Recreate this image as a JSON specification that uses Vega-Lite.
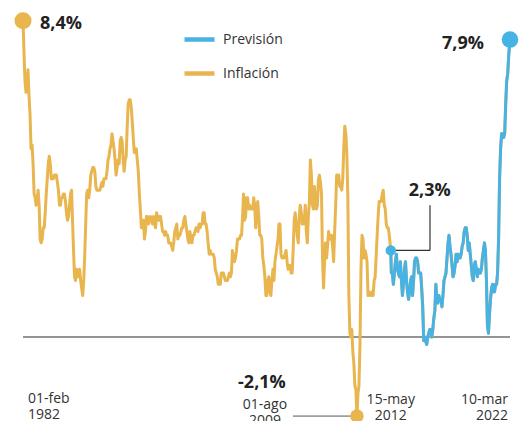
{
"$schema": "https://vega.github.io/schema/vega-lite/v6.json",
"width": 519, "height": 421, "padding": 0,
"autosize": {"type": "none"},
"background": "white",
"config": {"view": {"stroke": null}, "font": "Open Sans"},
"datasets": {"ipc": [
{"d":"1982-02-01","v":8.4},{"d":"1982-03-01","v":7.6},{"d":"1982-04-01","v":6.8},{"d":"1982-05-01","v":6.5},{"d":"1982-06-01","v":6.7},{"d":"1982-07-01","v":7.1},{"d":"1982-08-01","v":6.4},{"d":"1982-09-01","v":5.9},{"d":"1982-10-01","v":5.0},{"d":"1982-11-01","v":5.1},{"d":"1982-12-01","v":4.6},{"d":"1983-01-01","v":3.8},
{"d":"1983-02-01","v":3.7},{"d":"1983-03-01","v":3.5},{"d":"1983-04-01","v":3.6},{"d":"1983-05-01","v":3.9},{"d":"1983-06-01","v":3.5},{"d":"1983-07-01","v":2.6},{"d":"1983-08-01","v":2.5},{"d":"1983-09-01","v":2.6},{"d":"1983-10-01","v":2.9},{"d":"1983-11-01","v":2.9},{"d":"1983-12-01","v":3.3},{"d":"1984-01-01","v":3.8},
{"d":"1984-02-01","v":4.2},{"d":"1984-03-01","v":4.6},{"d":"1984-04-01","v":4.8},{"d":"1984-05-01","v":4.6},{"d":"1984-06-01","v":4.2},{"d":"1984-07-01","v":4.2},{"d":"1984-08-01","v":4.2},{"d":"1984-09-01","v":4.3},{"d":"1984-10-01","v":4.3},{"d":"1984-11-01","v":4.3},{"d":"1984-12-01","v":4.1},{"d":"1985-01-01","v":3.9},
{"d":"1985-02-01","v":3.5},{"d":"1985-03-01","v":3.5},{"d":"1985-04-01","v":3.7},{"d":"1985-05-01","v":3.7},{"d":"1985-06-01","v":3.8},{"d":"1985-07-01","v":3.8},{"d":"1985-08-01","v":3.6},{"d":"1985-09-01","v":3.3},{"d":"1985-10-01","v":3.1},{"d":"1985-11-01","v":3.2},{"d":"1985-12-01","v":3.5},{"d":"1986-01-01","v":3.8},
{"d":"1986-02-01","v":3.9},{"d":"1986-03-01","v":3.1},{"d":"1986-04-01","v":2.3},{"d":"1986-05-01","v":1.6},{"d":"1986-06-01","v":1.5},{"d":"1986-07-01","v":1.8},{"d":"1986-08-01","v":1.6},{"d":"1986-09-01","v":1.6},{"d":"1986-10-01","v":1.8},{"d":"1986-11-01","v":1.5},{"d":"1986-12-01","v":1.3},{"d":"1987-01-01","v":1.1},
{"d":"1987-02-01","v":1.5},{"d":"1987-03-01","v":2.1},{"d":"1987-04-01","v":3.0},{"d":"1987-05-01","v":3.8},{"d":"1987-06-01","v":3.9},{"d":"1987-07-01","v":3.7},{"d":"1987-08-01","v":3.9},{"d":"1987-09-01","v":4.3},{"d":"1987-10-01","v":4.4},{"d":"1987-11-01","v":4.5},{"d":"1987-12-01","v":4.5},{"d":"1988-01-01","v":4.4},
{"d":"1988-02-01","v":4.0},{"d":"1988-03-01","v":3.9},{"d":"1988-04-01","v":3.9},{"d":"1988-05-01","v":3.9},{"d":"1988-06-01","v":3.9},{"d":"1988-07-01","v":4.0},{"d":"1988-08-01","v":4.1},{"d":"1988-09-01","v":4.0},{"d":"1988-10-01","v":4.2},{"d":"1988-11-01","v":4.2},{"d":"1988-12-01","v":4.2},{"d":"1989-01-01","v":4.4},
{"d":"1989-02-01","v":4.7},{"d":"1989-03-01","v":4.8},{"d":"1989-04-01","v":5.0},{"d":"1989-05-01","v":5.1},{"d":"1989-06-01","v":5.4},{"d":"1989-07-01","v":5.2},{"d":"1989-08-01","v":5.0},{"d":"1989-09-01","v":4.7},{"d":"1989-10-01","v":4.3},{"d":"1989-11-01","v":4.5},{"d":"1989-12-01","v":4.7},{"d":"1990-01-01","v":4.6},
{"d":"1990-02-01","v":5.2},{"d":"1990-03-01","v":5.3},{"d":"1990-04-01","v":5.2},{"d":"1990-05-01","v":4.7},{"d":"1990-06-01","v":4.4},{"d":"1990-07-01","v":4.7},{"d":"1990-08-01","v":4.8},{"d":"1990-09-01","v":5.6},{"d":"1990-10-01","v":6.2},{"d":"1990-11-01","v":6.3},{"d":"1990-12-01","v":6.3},{"d":"1991-01-01","v":6.1},
{"d":"1991-02-01","v":5.7},{"d":"1991-03-01","v":5.3},{"d":"1991-04-01","v":4.9},{"d":"1991-05-01","v":4.9},{"d":"1991-06-01","v":5.0},{"d":"1991-07-01","v":4.7},{"d":"1991-08-01","v":4.4},{"d":"1991-09-01","v":3.8},{"d":"1991-10-01","v":3.4},{"d":"1991-11-01","v":2.9},{"d":"1991-12-01","v":3.0},{"d":"1992-01-01","v":3.1},
{"d":"1992-02-01","v":2.6},{"d":"1992-03-01","v":2.8},{"d":"1992-04-01","v":3.2},{"d":"1992-05-01","v":3.2},{"d":"1992-06-01","v":3.0},{"d":"1992-07-01","v":3.1},{"d":"1992-08-01","v":3.2},{"d":"1992-09-01","v":3.1},{"d":"1992-10-01","v":3.0},{"d":"1992-11-01","v":3.2},{"d":"1992-12-01","v":3.0},{"d":"1993-01-01","v":2.9},
{"d":"1993-02-01","v":3.3},{"d":"1993-03-01","v":3.2},{"d":"1993-04-01","v":3.1},{"d":"1993-05-01","v":3.2},{"d":"1993-06-01","v":3.2},{"d":"1993-07-01","v":3.0},{"d":"1993-08-01","v":2.8},{"d":"1993-09-01","v":2.8},{"d":"1993-10-01","v":2.7},{"d":"1993-11-01","v":2.8},{"d":"1993-12-01","v":2.7},{"d":"1994-01-01","v":2.7},
{"d":"1994-02-01","v":2.5},{"d":"1994-03-01","v":2.5},{"d":"1994-04-01","v":2.5},{"d":"1994-05-01","v":2.4},{"d":"1994-06-01","v":2.3},{"d":"1994-07-01","v":2.5},{"d":"1994-08-01","v":2.8},{"d":"1994-09-01","v":2.9},{"d":"1994-10-01","v":3.0},{"d":"1994-11-01","v":2.6},{"d":"1994-12-01","v":2.7},{"d":"1995-01-01","v":2.7},
{"d":"1995-02-01","v":2.8},{"d":"1995-03-01","v":2.9},{"d":"1995-04-01","v":2.9},{"d":"1995-05-01","v":3.1},{"d":"1995-06-01","v":3.2},{"d":"1995-07-01","v":3.0},{"d":"1995-08-01","v":2.8},{"d":"1995-09-01","v":2.6},{"d":"1995-10-01","v":2.5},{"d":"1995-11-01","v":2.8},{"d":"1995-12-01","v":2.6},{"d":"1996-01-01","v":2.5},
{"d":"1996-02-01","v":2.7},{"d":"1996-03-01","v":2.7},{"d":"1996-04-01","v":2.8},{"d":"1996-05-01","v":2.9},{"d":"1996-06-01","v":2.9},{"d":"1996-07-01","v":2.8},{"d":"1996-08-01","v":3.0},{"d":"1996-09-01","v":2.9},{"d":"1996-10-01","v":3.0},{"d":"1996-11-01","v":3.0},{"d":"1996-12-01","v":3.3},{"d":"1997-01-01","v":3.3},
{"d":"1997-02-01","v":3.0},{"d":"1997-03-01","v":3.0},{"d":"1997-04-01","v":2.8},{"d":"1997-05-01","v":2.5},{"d":"1997-06-01","v":2.2},{"d":"1997-07-01","v":2.3},{"d":"1997-08-01","v":2.2},{"d":"1997-09-01","v":2.2},{"d":"1997-10-01","v":2.2},{"d":"1997-11-01","v":2.1},{"d":"1997-12-01","v":1.8},{"d":"1998-01-01","v":1.7},
{"d":"1998-02-01","v":1.6},{"d":"1998-03-01","v":1.4},{"d":"1998-04-01","v":1.4},{"d":"1998-05-01","v":1.4},{"d":"1998-06-01","v":1.7},{"d":"1998-07-01","v":1.7},{"d":"1998-08-01","v":1.7},{"d":"1998-09-01","v":1.6},{"d":"1998-10-01","v":1.5},{"d":"1998-11-01","v":1.5},{"d":"1998-12-01","v":1.5},{"d":"1999-01-01","v":1.6},
{"d":"1999-02-01","v":1.7},{"d":"1999-03-01","v":1.6},{"d":"1999-04-01","v":1.7},{"d":"1999-05-01","v":2.3},{"d":"1999-06-01","v":2.1},{"d":"1999-07-01","v":2.0},{"d":"1999-08-01","v":2.1},{"d":"1999-09-01","v":2.3},{"d":"1999-10-01","v":2.6},{"d":"1999-11-01","v":2.6},{"d":"1999-12-01","v":2.6},{"d":"2000-01-01","v":2.7},
{"d":"2000-02-01","v":2.7},{"d":"2000-03-01","v":3.2},{"d":"2000-04-01","v":3.8},{"d":"2000-05-01","v":3.1},{"d":"2000-06-01","v":3.2},{"d":"2000-07-01","v":3.7},{"d":"2000-08-01","v":3.7},{"d":"2000-09-01","v":3.4},{"d":"2000-10-01","v":3.5},{"d":"2000-11-01","v":3.4},{"d":"2000-12-01","v":3.4},{"d":"2001-01-01","v":3.4},
{"d":"2001-02-01","v":3.7},{"d":"2001-03-01","v":3.5},{"d":"2001-04-01","v":2.9},{"d":"2001-05-01","v":3.3},{"d":"2001-06-01","v":3.6},{"d":"2001-07-01","v":3.2},{"d":"2001-08-01","v":2.7},{"d":"2001-09-01","v":2.7},{"d":"2001-10-01","v":2.6},{"d":"2001-11-01","v":2.1},{"d":"2001-12-01","v":1.9},{"d":"2002-01-01","v":1.6},
{"d":"2002-02-01","v":1.1},{"d":"2002-03-01","v":1.1},{"d":"2002-04-01","v":1.5},{"d":"2002-05-01","v":1.6},{"d":"2002-06-01","v":1.2},{"d":"2002-07-01","v":1.1},{"d":"2002-08-01","v":1.5},{"d":"2002-09-01","v":1.8},{"d":"2002-10-01","v":1.5},{"d":"2002-11-01","v":2.0},{"d":"2002-12-01","v":2.2},{"d":"2003-01-01","v":2.4},
{"d":"2003-02-01","v":2.6},{"d":"2003-03-01","v":3.0},{"d":"2003-04-01","v":3.0},{"d":"2003-05-01","v":2.2},{"d":"2003-06-01","v":2.1},{"d":"2003-07-01","v":2.1},{"d":"2003-08-01","v":2.1},{"d":"2003-09-01","v":2.2},{"d":"2003-10-01","v":2.3},{"d":"2003-11-01","v":2.0},{"d":"2003-12-01","v":1.8},{"d":"2004-01-01","v":1.9},
{"d":"2004-02-01","v":1.9},{"d":"2004-03-01","v":1.7},{"d":"2004-04-01","v":1.7},{"d":"2004-05-01","v":2.3},{"d":"2004-06-01","v":3.1},{"d":"2004-07-01","v":3.3},{"d":"2004-08-01","v":3.0},{"d":"2004-09-01","v":2.7},{"d":"2004-10-01","v":2.5},{"d":"2004-11-01","v":3.2},{"d":"2004-12-01","v":3.5},{"d":"2005-01-01","v":3.3},
{"d":"2005-02-01","v":3.0},{"d":"2005-03-01","v":3.0},{"d":"2005-04-01","v":3.1},{"d":"2005-05-01","v":3.5},{"d":"2005-06-01","v":2.8},{"d":"2005-07-01","v":2.5},{"d":"2005-08-01","v":3.2},{"d":"2005-09-01","v":3.6},{"d":"2005-10-01","v":4.7},{"d":"2005-11-01","v":4.3},{"d":"2005-12-01","v":3.5},{"d":"2006-01-01","v":3.4},
{"d":"2006-02-01","v":4.0},{"d":"2006-03-01","v":3.6},{"d":"2006-04-01","v":3.4},{"d":"2006-05-01","v":3.5},{"d":"2006-06-01","v":4.2},{"d":"2006-07-01","v":4.3},{"d":"2006-08-01","v":4.1},{"d":"2006-09-01","v":3.8},{"d":"2006-10-01","v":2.1},{"d":"2006-11-01","v":1.3},{"d":"2006-12-01","v":2.0},{"d":"2007-01-01","v":2.5},
{"d":"2007-02-01","v":2.1},{"d":"2007-03-01","v":2.4},{"d":"2007-04-01","v":2.8},{"d":"2007-05-01","v":2.6},{"d":"2007-06-01","v":2.7},{"d":"2007-07-01","v":2.7},{"d":"2007-08-01","v":2.4},{"d":"2007-09-01","v":2.0},{"d":"2007-10-01","v":2.8},{"d":"2007-11-01","v":3.5},{"d":"2007-12-01","v":4.3},{"d":"2008-01-01","v":4.1},
{"d":"2008-02-01","v":4.3},{"d":"2008-03-01","v":4.0},{"d":"2008-04-01","v":4.0},{"d":"2008-05-01","v":3.9},{"d":"2008-06-01","v":4.2},{"d":"2008-07-01","v":5.0},{"d":"2008-08-01","v":5.6},{"d":"2008-09-01","v":5.4},{"d":"2008-10-01","v":4.9},{"d":"2008-11-01","v":3.7},{"d":"2008-12-01","v":1.1},{"d":"2009-01-01","v":0.1},
{"d":"2009-02-01","v":0.0},{"d":"2009-03-01","v":0.2},{"d":"2009-04-01","v":-0.4},{"d":"2009-05-01","v":-0.7},{"d":"2009-06-01","v":-1.3},{"d":"2009-07-01","v":-1.4},{"d":"2009-08-01","v":-2.1},{"d":"2009-09-01","v":-1.5},{"d":"2009-10-01","v":-1.3},{"d":"2009-11-01","v":-0.2},{"d":"2009-12-01","v":1.8},{"d":"2010-01-01","v":2.7},
{"d":"2010-02-01","v":2.6},{"d":"2010-03-01","v":2.1},{"d":"2010-04-01","v":2.3},{"d":"2010-05-01","v":2.2},{"d":"2010-06-01","v":2.0},{"d":"2010-07-01","v":1.1},{"d":"2010-08-01","v":1.2},{"d":"2010-09-01","v":1.1},{"d":"2010-10-01","v":1.1},{"d":"2010-11-01","v":1.2},{"d":"2010-12-01","v":1.1},{"d":"2011-01-01","v":1.5},
{"d":"2011-02-01","v":1.6},{"d":"2011-03-01","v":2.1},{"d":"2011-04-01","v":2.7},{"d":"2011-05-01","v":3.2},{"d":"2011-06-01","v":3.6},{"d":"2011-07-01","v":3.6},{"d":"2011-08-01","v":3.6},{"d":"2011-09-01","v":3.8},{"d":"2011-10-01","v":3.9},{"d":"2011-11-01","v":3.5},{"d":"2011-12-01","v":3.4},{"d":"2012-01-01","v":3.0},
{"d":"2012-02-01","v":2.9},{"d":"2012-03-01","v":2.9},{"d":"2012-04-01","v":2.7},{"d":"2012-05-15","v":2.3},{"d":"2012-06-01","v":1.7},{"d":"2012-07-01","v":1.7},{"d":"2012-08-01","v":1.4},{"d":"2012-09-01","v":1.7},{"d":"2012-10-01","v":2.0},{"d":"2012-11-01","v":2.2},{"d":"2012-12-01","v":1.8},{"d":"2013-01-01","v":1.7},
{"d":"2013-02-01","v":1.6},{"d":"2013-03-01","v":2.0},{"d":"2013-04-01","v":1.5},{"d":"2013-05-01","v":1.1},{"d":"2013-06-01","v":1.4},{"d":"2013-07-01","v":1.8},{"d":"2013-08-01","v":2.0},{"d":"2013-09-01","v":1.5},{"d":"2013-10-01","v":1.2},{"d":"2013-11-01","v":1.0},{"d":"2013-12-01","v":1.2},{"d":"2014-01-01","v":1.5},
{"d":"2014-02-01","v":1.6},{"d":"2014-03-01","v":1.1},{"d":"2014-04-01","v":1.5},{"d":"2014-05-01","v":2.0},{"d":"2014-06-01","v":2.1},{"d":"2014-07-01","v":2.1},{"d":"2014-08-01","v":2.0},{"d":"2014-09-01","v":1.7},{"d":"2014-10-01","v":1.7},{"d":"2014-11-01","v":1.7},{"d":"2014-12-01","v":1.3},{"d":"2015-01-01","v":0.8},
{"d":"2015-02-01","v":-0.1},{"d":"2015-03-01","v":0.0},{"d":"2015-04-01","v":-0.1},{"d":"2015-05-01","v":-0.2},{"d":"2015-06-01","v":0.0},{"d":"2015-07-01","v":0.1},{"d":"2015-08-01","v":0.2},{"d":"2015-09-01","v":0.2},{"d":"2015-10-01","v":0.0},{"d":"2015-11-01","v":0.2},{"d":"2015-12-01","v":0.5},{"d":"2016-01-01","v":0.7},
{"d":"2016-02-01","v":1.4},{"d":"2016-03-01","v":1.0},{"d":"2016-04-01","v":0.9},{"d":"2016-05-01","v":1.1},{"d":"2016-06-01","v":1.0},{"d":"2016-07-01","v":1.0},{"d":"2016-08-01","v":0.8},{"d":"2016-09-01","v":1.1},{"d":"2016-10-01","v":1.5},{"d":"2016-11-01","v":1.6},{"d":"2016-12-01","v":1.7},{"d":"2017-01-01","v":2.1},
{"d":"2017-02-01","v":2.5},{"d":"2017-03-01","v":2.7},{"d":"2017-04-01","v":2.4},{"d":"2017-05-01","v":2.2},{"d":"2017-06-01","v":1.9},{"d":"2017-07-01","v":1.6},{"d":"2017-08-01","v":1.7},{"d":"2017-09-01","v":1.9},{"d":"2017-10-01","v":2.2},{"d":"2017-11-01","v":2.0},{"d":"2017-12-01","v":2.2},{"d":"2018-01-01","v":2.1},
{"d":"2018-02-01","v":2.1},{"d":"2018-03-01","v":2.2},{"d":"2018-04-01","v":2.4},{"d":"2018-05-01","v":2.5},{"d":"2018-06-01","v":2.8},{"d":"2018-07-01","v":2.9},{"d":"2018-08-01","v":2.9},{"d":"2018-09-01","v":2.7},{"d":"2018-10-01","v":2.3},{"d":"2018-11-01","v":2.5},{"d":"2018-12-01","v":2.2},{"d":"2019-01-01","v":1.9},
{"d":"2019-02-01","v":1.6},{"d":"2019-03-01","v":1.5},{"d":"2019-04-01","v":1.9},{"d":"2019-05-01","v":2.0},{"d":"2019-06-01","v":1.8},{"d":"2019-07-01","v":1.6},{"d":"2019-08-01","v":1.8},{"d":"2019-09-01","v":1.7},{"d":"2019-10-01","v":1.7},{"d":"2019-11-01","v":1.8},{"d":"2019-12-01","v":2.1},{"d":"2020-01-01","v":2.3},
{"d":"2020-02-01","v":2.5},{"d":"2020-03-01","v":2.3},{"d":"2020-04-01","v":1.5},{"d":"2020-05-01","v":0.3},{"d":"2020-06-01","v":0.1},{"d":"2020-07-01","v":0.6},{"d":"2020-08-01","v":1.0},{"d":"2020-09-01","v":1.3},{"d":"2020-10-01","v":1.4},{"d":"2020-11-01","v":1.2},{"d":"2020-12-01","v":1.2},{"d":"2021-01-01","v":1.4},
{"d":"2021-02-01","v":1.4},{"d":"2021-03-01","v":1.7},{"d":"2021-04-01","v":2.6},{"d":"2021-05-01","v":4.2},{"d":"2021-06-01","v":5.0},{"d":"2021-07-01","v":5.4},{"d":"2021-08-01","v":5.4},{"d":"2021-09-01","v":5.3},{"d":"2021-10-01","v":5.4},{"d":"2021-11-01","v":6.2},{"d":"2021-12-01","v":6.8},{"d":"2022-01-01","v":7.0},
{"d":"2022-02-01","v":7.5},{"d":"2022-03-10","v":7.9}
]},
"layer": [
{
 "data": {"values": [{"linea": "cero"}]},
 "mark": {"type": "rule", "color": "#707070", "strokeWidth": 1.4},
 "encoding": {
  "x": {"datum": {"year": 1982, "month": 2, "date": 1, "utc": true}, "type": "temporal", "scale": {"domain": [{"year": 1980, "month": 3, "date": 11, "utc": true}, {"year": 2022, "month": 12, "date": 6, "utc": true}], "nice": false}, "axis": null},
  "x2": {"datum": {"year": 2022, "month": 3, "date": 10, "utc": true}},
  "y": {"datum": 0, "type": "quantitative", "scale": {"domain": [-2.231, 8.951], "nice": false, "zero": false}, "axis": null}
 }
},
{
 "data": {"name": "ipc"},
 "mark": {"type": "line", "strokeWidth": 3, "strokeJoin": "round", "strokeCap": "round"},
 "encoding": {
  "x": {"field": "d", "type": "temporal", "scale": {"domain": [{"year": 1980, "month": 3, "date": 11, "utc": true}, {"year": 2022, "month": 12, "date": 6, "utc": true}], "nice": false}, "axis": null},
  "y": {"field": "v", "type": "quantitative", "scale": {"domain": [-2.231, 8.951], "nice": false, "zero": false}, "axis": null},
  "color": {"datum": "Inflación", "type": "nominal", "scale": {"domain": ["Previsión", "Inflación"], "range": ["#47B2E4", "#E8B54F"]},
   "legend": {"title": null, "orient": "none", "legendX": 182, "legendY": 22, "symbolType": "stroke", "symbolSize": 900, "symbolStrokeWidth": 4.5, "labelFont": "Open Sans", "labelFontSize": 14, "labelColor": "#333333", "labelOffset": 6, "rowPadding": 7, "padding": 0}}
 }
},
{
 "data": {"name": "ipc"},
 "transform": [{"filter": {"field": "d", "gte": {"year": 2012, "month": 5, "date": 1, "utc": true}}}],
 "mark": {"type": "line", "strokeWidth": 3, "strokeJoin": "round", "strokeCap": "round"},
 "encoding": {
  "x": {"field": "d", "type": "temporal", "scale": {"domain": [{"year": 1980, "month": 3, "date": 11, "utc": true}, {"year": 2022, "month": 12, "date": 6, "utc": true}], "nice": false}, "axis": null},
  "y": {"field": "v", "type": "quantitative", "scale": {"domain": [-2.231, 8.951], "nice": false, "zero": false}, "axis": null},
  "color": {"datum": "Previsión", "type": "nominal", "scale": {"domain": ["Previsión", "Inflación"], "range": ["#47B2E4", "#E8B54F"]},
   "legend": {"title": null, "orient": "none", "legendX": 182, "legendY": 22, "symbolType": "stroke", "symbolSize": 900, "symbolStrokeWidth": 4.5, "labelFont": "Open Sans", "labelFontSize": 14, "labelColor": "#333333", "labelOffset": 6, "rowPadding": 7, "padding": 0}}
 }
},
{
 "data": {"values": [{"d": "1982-02-01", "v": 8.4, "t": "8,4%", "f": "01-feb\n1982"}]},
 "encoding": {
  "x": {"field": "d", "type": "temporal", "scale": {"domain": [{"year": 1980, "month": 3, "date": 11, "utc": true}, {"year": 2022, "month": 12, "date": 6, "utc": true}], "nice": false}, "axis": null},
  "y": {"field": "v", "type": "quantitative", "scale": {"domain": [-2.231, 8.951], "nice": false, "zero": false}, "axis": null}
 },
 "layer": [
  {"mark": {"type": "point", "filled": true, "opacity": 1, "color": "#E8B54F", "size": 290}},
  {"mark": {"type": "text", "align": "left", "baseline": "middle", "dx": 17, "dy": 3, "font": "Open Sans", "fontWeight": "bold", "fontSize": 18, "color": "#222222"}, "encoding": {"text": {"field": "t"}}},
  {"mark": {"type": "text", "align": "left", "baseline": "alphabetic", "dx": 5, "dy": 66, "lineBreak": "\n", "lineHeight": 16, "font": "Open Sans", "fontSize": 14, "color": "#333333"},
   "encoding": {"text": {"field": "f"}, "y": {"datum": 0, "type": "quantitative", "scale": {"domain": [-2.231, 8.951], "nice": false, "zero": false}, "axis": null}}}
 ]
},
{
 "data": {"values": [{"d": "2009-08-01", "v": -2.1, "t": "-2,1%", "f": "01-ago\n2009"}]},
 "encoding": {
  "x": {"field": "d", "type": "temporal", "scale": {"domain": [{"year": 1980, "month": 3, "date": 11, "utc": true}, {"year": 2022, "month": 12, "date": 6, "utc": true}], "nice": false}, "axis": null},
  "y": {"field": "v", "type": "quantitative", "scale": {"domain": [-2.231, 8.951], "nice": false, "zero": false}, "axis": null}
 },
 "layer": [
  {"mark": {"type": "rule", "color": "#555555", "strokeWidth": 1},
   "encoding": {"x": {"datum": {"year": 2004, "month": 4, "date": 26, "utc": true}, "type": "temporal", "scale": {"domain": [{"year": 1980, "month": 3, "date": 11, "utc": true}, {"year": 2022, "month": 12, "date": 6, "utc": true}], "nice": false}, "axis": null}, "x2": {"field": "d"}}},
  {"mark": {"type": "point", "filled": true, "opacity": 1, "color": "#E8B54F", "size": 180}},
  {"mark": {"type": "text", "align": "center", "baseline": "middle", "dx": -95, "dy": -33, "font": "Open Sans", "fontWeight": "bold", "fontSize": 18, "color": "#222222"}, "encoding": {"text": {"field": "t"}}},
  {"mark": {"type": "text", "align": "center", "baseline": "alphabetic", "dx": -92, "dy": -7, "lineBreak": "\n", "lineHeight": 16, "font": "Open Sans", "fontSize": 14, "color": "#333333"}, "encoding": {"text": {"field": "f"}}}
 ]
},
{
 "data": {"values": [{"d": "2012-05-15", "v": 2.3, "t": "2,3%", "f": "15-may\n2012"}]},
 "encoding": {
  "x": {"field": "d", "type": "temporal", "scale": {"domain": [{"year": 1980, "month": 3, "date": 11, "utc": true}, {"year": 2022, "month": 12, "date": 6, "utc": true}], "nice": false}, "axis": null},
  "y": {"field": "v", "type": "quantitative", "scale": {"domain": [-2.231, 8.951], "nice": false, "zero": false}, "axis": null}
 },
 "layer": [
  {"mark": {"type": "rule", "color": "#333333", "strokeWidth": 1.2},
   "encoding": {"x2": {"datum": {"year": 2015, "month": 8, "date": 8, "utc": true}}}},
  {"mark": {"type": "rule", "color": "#333333", "strokeWidth": 1.2},
   "encoding": {"x": {"datum": {"year": 2015, "month": 8, "date": 8, "utc": true}, "type": "temporal", "scale": {"domain": [{"year": 1980, "month": 3, "date": 11, "utc": true}, {"year": 2022, "month": 12, "date": 6, "utc": true}], "nice": false}, "axis": null}, "y2": {"datum": 3.5}}},
  {"mark": {"type": "point", "filled": true, "opacity": 1, "color": "#47B2E4", "size": 110}},
  {"mark": {"type": "text", "align": "center", "baseline": "middle", "dx": 39, "dy": -59, "font": "Open Sans", "fontWeight": "bold", "fontSize": 18, "color": "#222222"}, "encoding": {"text": {"field": "t"}}},
  {"mark": {"type": "text", "align": "center", "baseline": "alphabetic", "dx": 0, "dy": 67, "lineBreak": "\n", "lineHeight": 16, "font": "Open Sans", "fontSize": 14, "color": "#333333"},
   "encoding": {"text": {"field": "f"}, "y": {"datum": 0, "type": "quantitative", "scale": {"domain": [-2.231, 8.951], "nice": false, "zero": false}, "axis": null}}}
 ]
},
{
 "data": {"values": [{"d": "2022-03-10", "v": 7.9, "t": "7,9%", "f": "10-mar\n2022"}]},
 "encoding": {
  "x": {"field": "d", "type": "temporal", "scale": {"domain": [{"year": 1980, "month": 3, "date": 11, "utc": true}, {"year": 2022, "month": 12, "date": 6, "utc": true}], "nice": false}, "axis": null},
  "y": {"field": "v", "type": "quantitative", "scale": {"domain": [-2.231, 8.951], "nice": false, "zero": false}, "axis": null}
 },
 "layer": [
  {"mark": {"type": "point", "filled": true, "opacity": 1, "color": "#47B2E4", "size": 275}},
  {"mark": {"type": "text", "align": "right", "baseline": "middle", "dx": -26, "dy": 4, "font": "Open Sans", "fontWeight": "bold", "fontSize": 18, "color": "#222222"}, "encoding": {"text": {"field": "t"}}},
  {"mark": {"type": "text", "align": "right", "baseline": "alphabetic", "dx": -2, "dy": 67, "lineBreak": "\n", "lineHeight": 16, "font": "Open Sans", "fontSize": 14, "color": "#333333"},
   "encoding": {"text": {"field": "f"}, "y": {"datum": 0, "type": "quantitative", "scale": {"domain": [-2.231, 8.951], "nice": false, "zero": false}, "axis": null}}}
 ]
}
]
}
